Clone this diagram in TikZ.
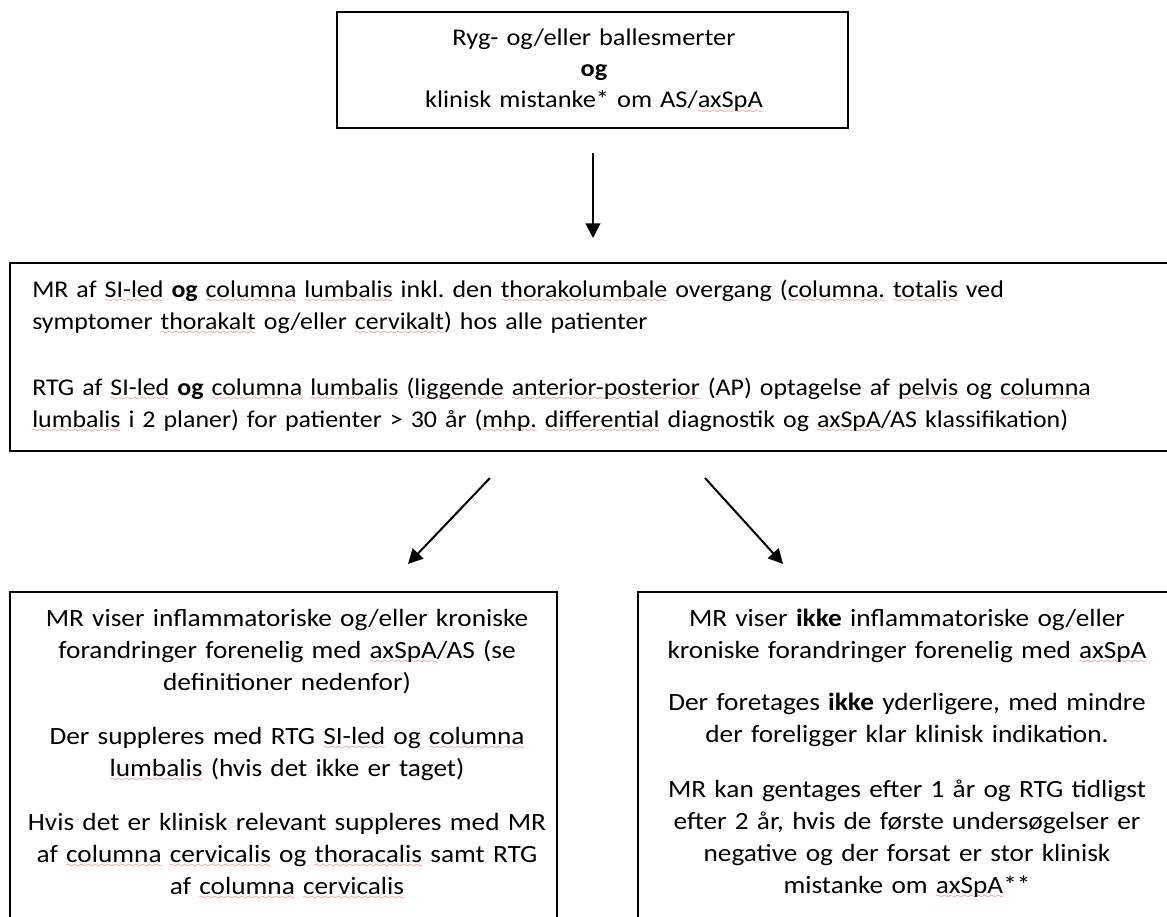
\documentclass[tikz,border=0pt]{standalone}
\usepackage{fontspec}
\setmainfont{Carlito}[FakeStretch=1.1]
\newfontfamily\midfont{Carlito}[FakeStretch=1.08]
\usetikzlibrary{arrows.meta}
\definecolor{sqred}{RGB}{228,80,80}
\font\wavyfont=lasy6
\newcommand\spellwave[1]{\setbox0\hbox{#1}\leavevmode\rlap{\color{sqred}\lower4pt\hbox to\wd0{\xleaders\hbox{\wavyfont\char58}\hfill}}\box0\relax}
\frenchspacing
\tikzset{
  box/.style={draw=black, line width=1.5pt, fill=white, inner sep=0pt},
  txt/.style={inner sep=0pt, font=\fontsize{18.6}{24}\selectfont\frenchspacing},
  midtxt/.style={inner sep=0pt, font=\midfont\fontsize{18}{24}\selectfont\frenchspacing},
  toptxt/.style={inner sep=0pt, font=\fontsize{18}{23.25}\selectfont\frenchspacing},
  arr/.style={line width=1.5pt, -{Triangle[length=11pt,width=11pt]}}
}
\begin{document}
\begin{tikzpicture}[x=0.75pt,y=-0.75pt]
\useasboundingbox (0,0) rectangle (1167,917);
\clip (0,0) rectangle (1167,917);
\fill[white] (0,0) rectangle (1167,917);
% boxes
\node[box, minimum width=383.25pt, minimum height=87pt] (top) at (592.5,70) {};
\node[box, minimum width=877.5pt, minimum height=141pt] (mid) at (595,357) {};
\node[box, minimum width=410.25pt, minimum height=261pt] (left) at (283.5,766) {};
\node[box, minimum width=406.5pt, minimum height=261pt] (right) at (909,766) {};
% top text
\node[toptxt, text width=370pt, align=center, anchor=base] (toptext) at (594,46)
  {Ryg- og/eller ballesmerter\\ \textbf{og}\\ klinisk mistanke* om AS/\spellwave{axSpA}};
% middle text
\node[midtxt, text width=860pt, align=left, anchor=base west] (midtext1) at (32,297)
  {MR af \spellwave{SI-led} \textbf{og} \spellwave{columna} \spellwave{lumbalis} inkl. den \spellwave{thorakolumbale} overgang (\spellwave{columna.} \spellwave{totalis} ved\\
   symptomer \spellwave{thorakalt} og/eller \spellwave{cervikalt}) hos alle patienter};
\node[midtxt, text width=860pt, align=left, anchor=base west] (midtext2) at (32,395)
  {RTG af \spellwave{SI-led} \textbf{og} \spellwave{columna} \spellwave{lumbalis} (\spellwave{liggende} \spellwave{anterior-posterior} (AP) optagelse af \spellwave{pelvis} og \spellwave{columna}\\
   \spellwave{lumbalis} i 2 planer) for patienter > 30 år (\spellwave{mhp.} \spellwave{differential} diagnostik og \spellwave{axSpA}/AS klassifikation)};
% left bottom text
\node[txt, text width=400pt, align=center, anchor=base] (l1) at (287,626)
  {MR viser inflammatoriske og/eller kroniske\\ forandringer forenelig med \spellwave{axSpA}/AS (se\\ definitioner nedenfor)};
\node[txt, text width=400pt, align=center, anchor=base] (l2) at (287,744)
  {Der suppleres med RTG \spellwave{SI-led} og \spellwave{columna}\\ \spellwave{lumbalis} (hvis det ikke er taget)};
\node[txt, text width=400pt, align=center, anchor=base] (l3) at (287,830)
  {Hvis det er klinisk relevant suppleres med MR\\ af \spellwave{columna} \spellwave{cervicalis} og \spellwave{thoracalis} samt RTG\\ af \spellwave{columna} \spellwave{cervicalis}};
% right bottom text
\node[txt, text width=400pt, align=center, anchor=base] (r1) at (907,626)
  {MR viser \textbf{ikke} inflammatoriske og/eller\\ kroniske forandringer forenelig med \spellwave{axSpA}};
\node[txt, text width=400pt, align=center, anchor=base] (r2) at (907,710)
  {Der foretages \textbf{ikke} yderligere, med mindre\\ der foreligger klar klinisk indikation.};
\node[txt, text width=400pt, align=center, anchor=base] (r3) at (907,797)
  {MR kan gentages efter 1 år og RTG tidligst\\ efter 2 år, hvis de første undersøgelser er\\ negative og der forsat er stor klinisk\\ mistanke om \spellwave{axSpA}**};
% arrows
\coordinate (a1s) at (593,153);
\coordinate (a1e) at (593,238);
\coordinate (a2s) at (490,478);
\coordinate (a2e) at (408,564);
\coordinate (a3s) at (705,478);
\coordinate (a3e) at (783,564);
\draw[arr] (a1s) -- (a1e);
\draw[arr] (a2s) -- (a2e);
\draw[arr] (a3s) -- (a3e);
\end{tikzpicture}
\end{document}
